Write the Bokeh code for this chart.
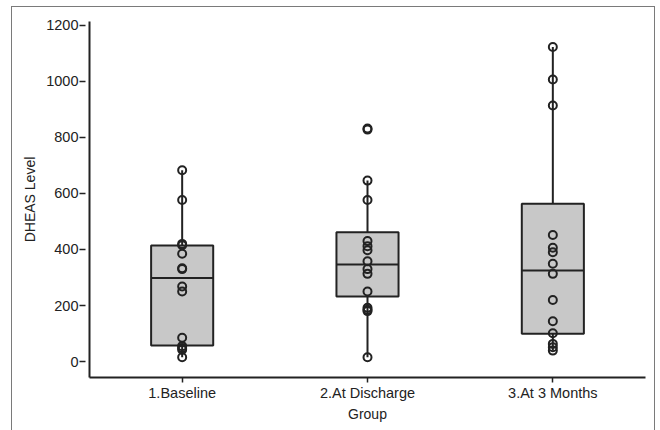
from bokeh.plotting import figure
from bokeh.models import Range1d, FixedTicker, FactorRange, InlineStyleSheet
from bokeh.embed import file_html
from bokeh.resources import INLINE

groups = ["1.Baseline", "2.At Discharge", "3.At 3 Months"]

# box statistics
q1 = [57, 232, 99]
median = [298, 346, 325]
q3 = [414, 462, 563]
whisker_low = [15, 15, 39]
whisker_high = [683, 646, 1123]

# individual points
baseline_pts = [683, 577, 420, 415, 385, 333, 330, 268, 250, 85, 55, 48, 42, 15]
discharge_pts = [832, 828, 646, 577, 430, 412, 397, 358, 330, 313, 250, 192, 185, 180, 15]
month3_pts = [1123, 1007, 914, 452, 406, 390, 349, 313, 220, 144, 101, 63, 51, 39]

y_ticks = [0, 200, 400, 600, 800, 1000, 1200]

FONT = "Liberation Sans"
DARK = "#222222"

border_css = InlineStyleSheet(css="""
:host { position: relative; overflow: hidden; }
:host::after {
  content: ""; position: absolute; left: 11px; top: 6px; width: 644px; height: 440px;
  border: 1.5px solid #7a7a7a; box-sizing: border-box; pointer-events: none;
}
""")

p = figure(width=660, height=430, output_backend="svg", toolbar_location=None,
           x_range=FactorRange(*groups), y_range=Range1d(-57, 1214),
           min_border_left=89, min_border_right=15, min_border_top=21, min_border_bottom=53,
           stylesheets=[border_css])
p.x_range.range_padding = 0
p.x_range.factor_padding = 0
p.background_fill_color = "white"
p.border_fill_color = "white"
p.outline_line_color = None
p.xgrid.visible = False
p.ygrid.visible = False

# whiskers
p.segment(x0=groups, y0=whisker_low, x1=groups, y1=whisker_high, line_color=DARK, line_width=2)
# boxes
p.vbar(x=groups, bottom=q1, top=q3, width=0.335, fill_color="#c8c8c8",
       line_color=DARK, line_width=2)
# medians
p.rect(x=groups, y=median, width=0.335, height=2, height_units="screen",
       fill_color=DARK, line_color=None)

# points
xs = [groups[0]] * len(baseline_pts) + [groups[1]] * len(discharge_pts) + [groups[2]] * len(month3_pts)
ys = baseline_pts + discharge_pts + month3_pts
p.scatter(x=xs, y=ys, marker="circle", size=8, fill_color=None,
          line_color=DARK, line_width=2)

# axes
p.yaxis.ticker = FixedTicker(ticks=y_ticks)
p.yaxis.minor_tick_line_color = None
p.yaxis.axis_label = "DHEAS Level"
p.xaxis.axis_label = "Group"
for ax in (p.xaxis, p.yaxis):
    ax.axis_line_color = DARK
    ax.axis_line_width = 2
    ax.major_tick_line_color = DARK
    ax.major_tick_line_width = 1.5
    ax.major_label_text_font = FONT
    ax.major_label_text_font_size = "14.5px"
    ax.major_label_text_color = "#222222"
    ax.axis_label_text_font = FONT
    ax.axis_label_text_font_size = "14px"
    ax.axis_label_text_font_style = "normal"
    ax.axis_label_text_color = "#222222"
p.xaxis.major_tick_in = 0
p.xaxis.major_tick_out = 5
p.yaxis.major_tick_in = -4
p.yaxis.major_tick_out = 10
p.yaxis.major_label_standoff = 1
p.yaxis.axis_label_standoff = 5
p.xaxis.major_label_standoff = 2
p.xaxis.axis_label_standoff = 2

open("out.html", "w").write(file_html(p, INLINE))
